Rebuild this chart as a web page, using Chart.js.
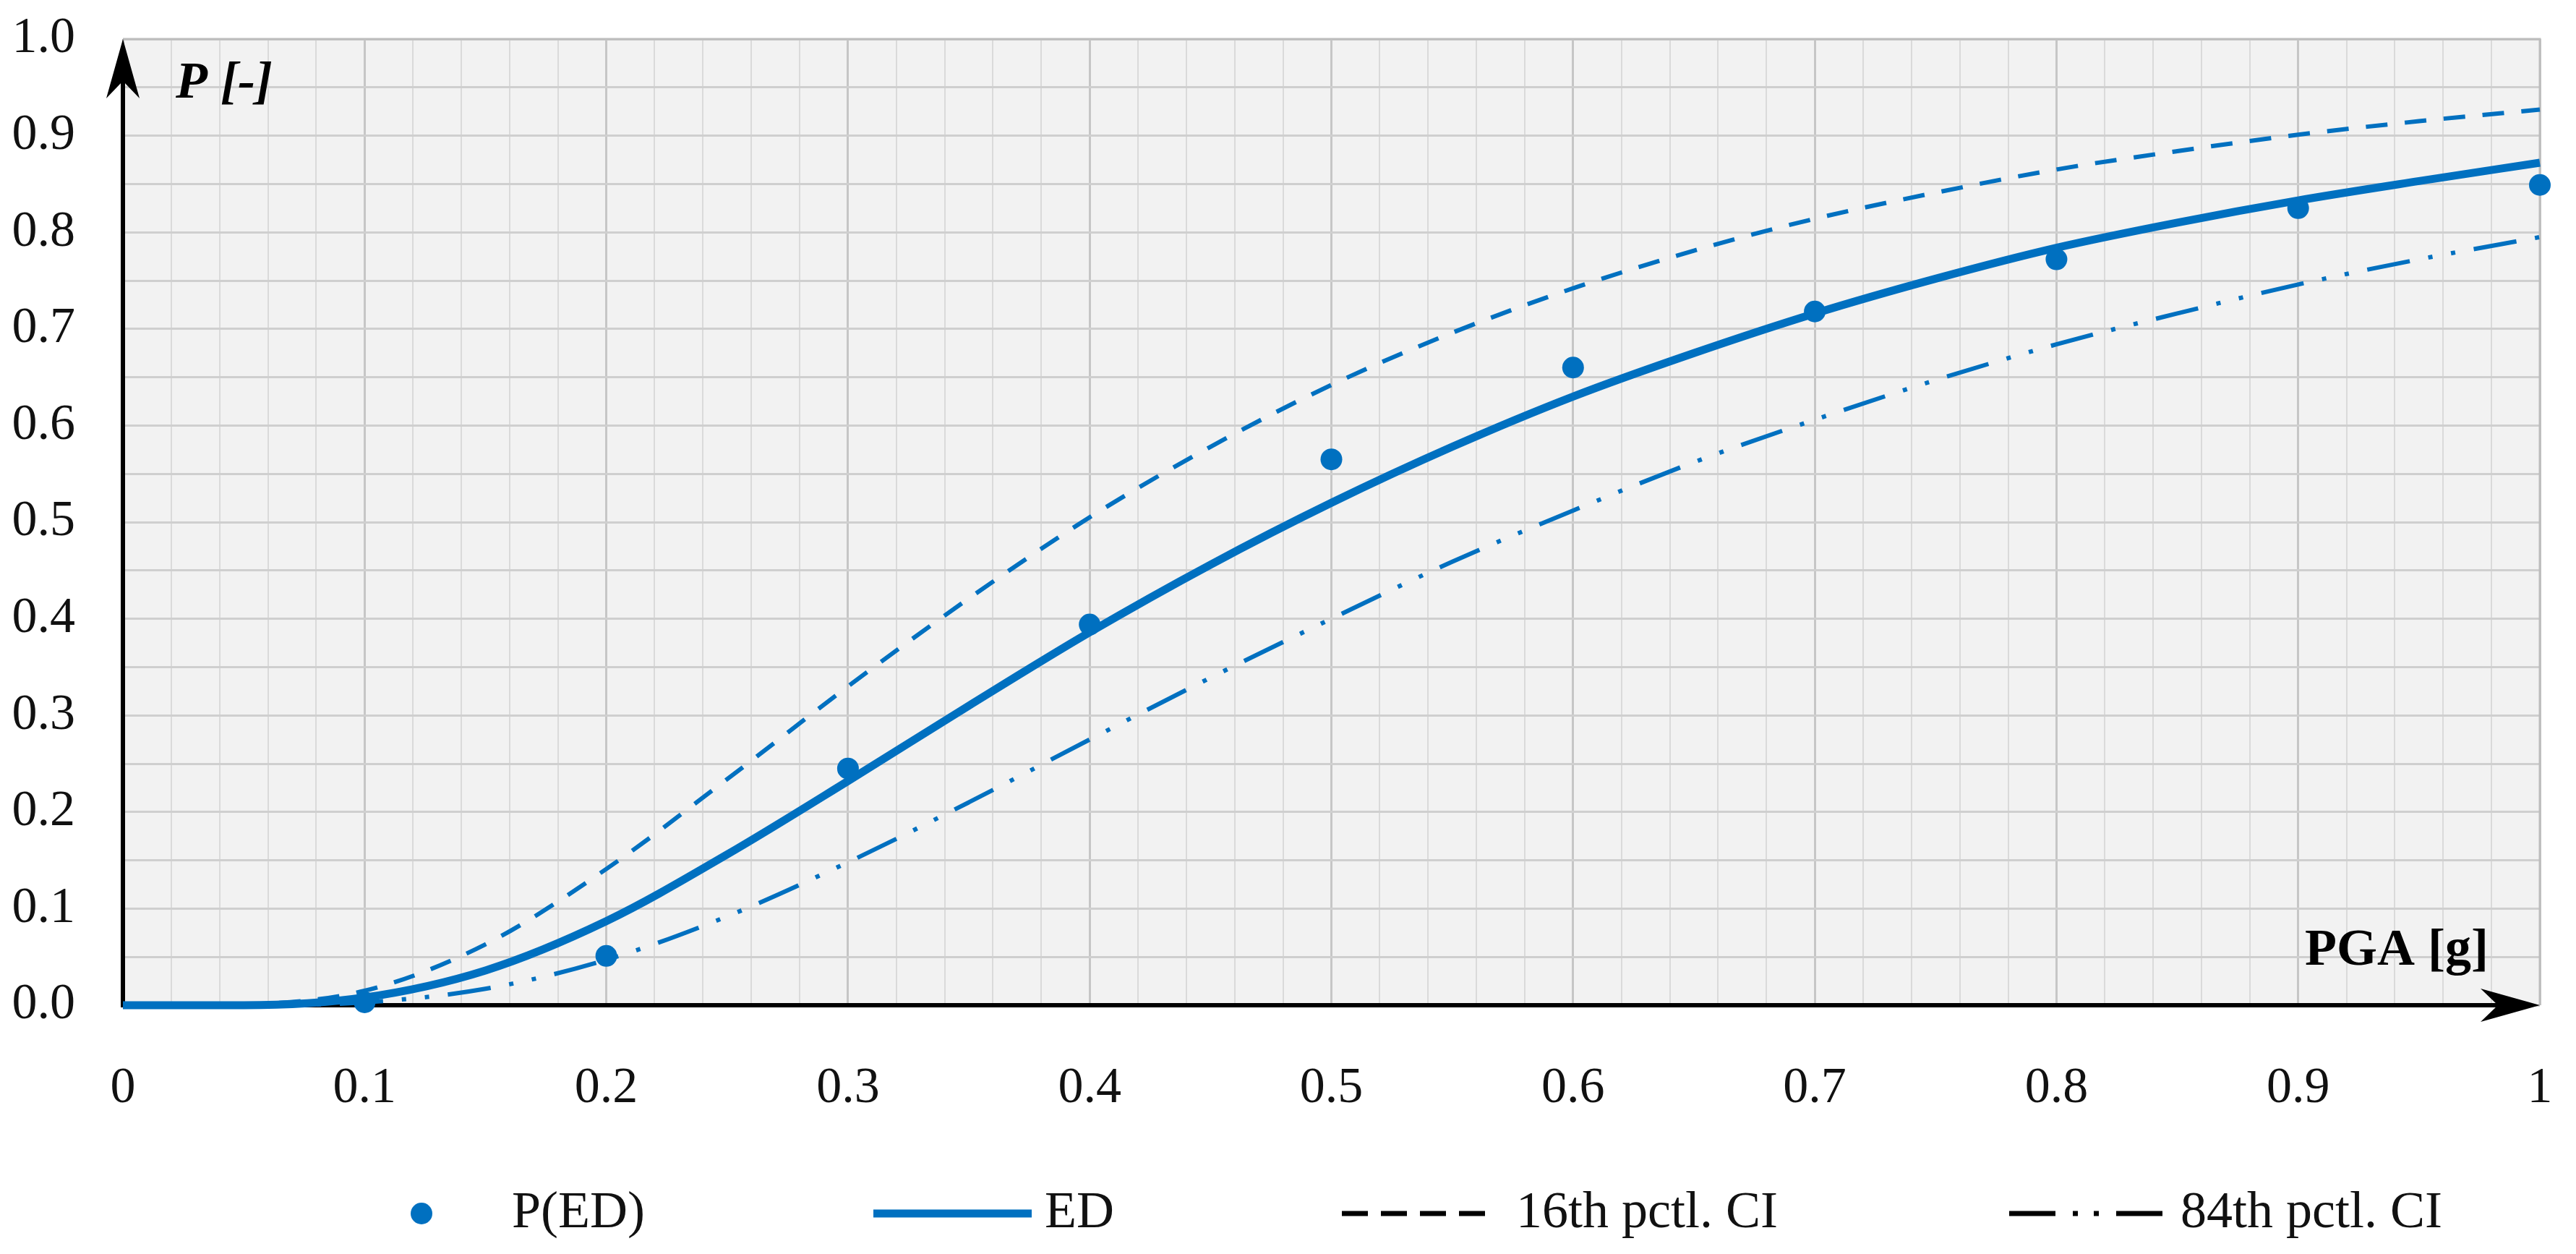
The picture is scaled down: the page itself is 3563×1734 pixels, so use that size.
<!DOCTYPE html>
<html>
<head>
<meta charset="utf-8">
<script src="https://cdn.jsdelivr.net/npm/chart.js@4.4.1/dist/chart.umd.min.js"></script>
<style>
  html, body { margin: 0; padding: 0; background: #fff; }
  #wrap { width: 3563px; height: 1734px; }
</style>
</head>
<body>
<div id="wrap"><canvas id="chart" width="3563" height="1734"></canvas></div>
<script>
// PGA grid the curves were read on
const pga = [0, 0.05, 0.1, 0.15, 0.2, 0.25, 0.3, 0.35, 0.4, 0.45, 0.5,
             0.55, 0.6, 0.65, 0.7, 0.75, 0.8, 0.85, 0.9, 0.95, 1.0];
// fragility curve ED
const edCurve = [0, 0.000, 0.008, 0.036, 0.087, 0.156, 0.232, 0.310, 0.386, 0.456, 0.520,
                 0.578, 0.630, 0.675, 0.716, 0.752, 0.784, 0.810, 0.833, 0.853, 0.872];
// 16th percentile confidence bound
const pct16 = [0, 0.001, 0.015, 0.063, 0.141, 0.234, 0.330, 0.421, 0.505, 0.578, 0.642,
               0.696, 0.742, 0.781, 0.814, 0.841, 0.865, 0.884, 0.901, 0.915, 0.927];
// 84th percentile confidence bound
const pct84 = [0, 0.000, 0.003, 0.017, 0.047, 0.092, 0.148, 0.210, 0.275, 0.339, 0.400,
               0.459, 0.512, 0.562, 0.606, 0.647, 0.684, 0.716, 0.746, 0.772, 0.795];
// observed damage probabilities
const obsPga = [0.1, 0.2, 0.3, 0.4, 0.5, 0.6, 0.7, 0.8, 0.9, 1.0];
const obsP = [0.003, 0.051, 0.245, 0.394, 0.565, 0.660, 0.718, 0.772, 0.825, 0.849];

const xTickLabels = ['0', '0.1', '0.2', '0.3', '0.4', '0.5', '0.6', '0.7', '0.8', '0.9', '1'];
const yTickLabels = ['0.0', '0.1', '0.2', '0.3', '0.4', '0.5', '0.6', '0.7', '0.8', '0.9', '1.0'];
const seriesLabels = ['P(ED)', 'ED', '16th pctl. CI', '84th pctl. CI'];

const BLUE = '#0070c0';
const SERIF = '"Liberation Serif", "Times New Roman", serif';

const xy = (xs, ys) => xs.map((x, i) => ({ x, y: ys[i] }));

Chart.defaults.font.family = SERIF;
Chart.defaults.color = '#111';

// stealth-style arrow head
function arrowHead(ctx, tipX, tipY, dir) {
  ctx.beginPath();
  if (dir === 'up') {
    ctx.moveTo(tipX, tipY);
    ctx.lineTo(tipX + 23, tipY + 82);
    ctx.lineTo(tipX, tipY + 58);
    ctx.lineTo(tipX - 23, tipY + 82);
  } else {
    ctx.moveTo(tipX, tipY);
    ctx.lineTo(tipX - 82, tipY - 23);
    ctx.lineTo(tipX - 58, tipY);
    ctx.lineTo(tipX - 82, tipY + 23);
  }
  ctx.closePath();
  ctx.fill();
}

const framePlugin = {
  id: 'frame',
  beforeDraw(chart) {
    const { ctx, chartArea: a } = chart;
    ctx.save();
    ctx.fillStyle = '#f2f2f2';
    ctx.fillRect(a.left, a.top, a.right - a.left, a.bottom - a.top);
    ctx.restore();
  },
  beforeDatasetsDraw(chart) {
    const { ctx, chartArea: a } = chart;
    ctx.save();
    // gray top/right border
    ctx.strokeStyle = '#bdbdbd';
    ctx.lineWidth = 3;
    ctx.beginPath();
    ctx.moveTo(a.left, a.top);
    ctx.lineTo(a.right, a.top);
    ctx.lineTo(a.right, a.bottom);
    ctx.stroke();
    // black axes with arrows
    ctx.strokeStyle = '#000';
    ctx.fillStyle = '#000';
    ctx.lineWidth = 6;
    ctx.beginPath();
    ctx.moveTo(a.left, a.bottom + 3);
    ctx.lineTo(a.left, a.top + 40);
    ctx.moveTo(a.left - 3, a.bottom);
    ctx.lineTo(a.right - 40, a.bottom);
    ctx.stroke();
    arrowHead(ctx, a.left, a.top, 'up');
    arrowHead(ctx, a.right, a.bottom, 'right');
    // axis titles inside the plot
    ctx.textBaseline = 'alphabetic';
    ctx.textAlign = 'left';
    ctx.font = 'bold italic 72px ' + SERIF;
    ctx.fillText('P [-]', a.left + 73, 135);
    ctx.font = 'bold 72px ' + SERIF;
    ctx.fillText('PGA [g]', 3188, 1334);
    ctx.restore();
  },
  afterDraw(chart) {
    const ctx = chart.ctx;
    const y = 1678;
    const labels = chart.data.datasets.map(d => d.label);
    ctx.save();
    // P(ED) marker
    ctx.fillStyle = BLUE;
    ctx.beginPath();
    ctx.arc(583, y, 15, 0, Math.PI * 2);
    ctx.fill();
    // ED line
    ctx.strokeStyle = BLUE;
    ctx.lineWidth = 11;
    ctx.beginPath();
    ctx.moveTo(1208, y);
    ctx.lineTo(1427, y);
    ctx.stroke();
    // 16th dashed (black in legend)
    ctx.strokeStyle = '#000';
    ctx.lineWidth = 7;
    ctx.setLineDash([36, 18]);
    ctx.beginPath();
    ctx.moveTo(1856, y);
    ctx.lineTo(2054, y);
    ctx.stroke();
    // 84th dash-dot-dot
    ctx.setLineDash([64, 24, 7, 22, 7, 24]);
    ctx.beginPath();
    ctx.moveTo(2779, y);
    ctx.lineTo(2994, y);
    ctx.stroke();
    ctx.setLineDash([]);
    // texts
    ctx.fillStyle = '#111';
    ctx.font = '72px ' + SERIF;
    ctx.textBaseline = 'middle';
    ctx.textAlign = 'left';
    ctx.fillText(labels[0], 708, y);
    ctx.fillText(labels[1], 1445, y);
    ctx.fillText(labels[2], 2097, y);
    ctx.fillText(labels[3], 3016, y);
    ctx.restore();
  }
};

new Chart(document.getElementById('chart'), {
  type: 'line',
  data: {
    datasets: [
      {
        label: seriesLabels[0],
        data: xy(obsPga, obsP),
        showLine: false,
        pointRadius: 15,
        pointHoverRadius: 15,
        pointBackgroundColor: BLUE,
        pointBorderWidth: 0,
        clip: false
      },
      {
        label: seriesLabels[1],
        data: xy(pga, edCurve),
        borderColor: BLUE,
        borderWidth: 11,
        pointRadius: 0,
        cubicInterpolationMode: 'monotone',
        clip: false
      },
      {
        label: seriesLabels[2],
        data: xy(pga, pct16),
        borderColor: BLUE,
        borderWidth: 6,
        borderDash: [30, 24],
        pointRadius: 0,
        cubicInterpolationMode: 'monotone',
        clip: false
      },
      {
        label: seriesLabels[3],
        data: xy(pga, pct84),
        borderColor: BLUE,
        borderWidth: 6,
        borderDash: [60, 26, 6, 26, 6, 26],
        pointRadius: 0,
        cubicInterpolationMode: 'monotone',
        clip: false
      }
    ]
  },
  options: {
    responsive: false,
    animation: false,
    devicePixelRatio: 1,
    layout: { autoPadding: false, padding: { left: 0, right: 50, top: 54, bottom: 0 } },
    plugins: {
      legend: { display: false },
      tooltip: { enabled: false }
    },
    scales: {
      x: {
        type: 'linear',
        min: 0,
        max: 1,
        afterFit(scale) {
          scale.height = 344;
          scale.paddingLeft = 0;
          scale.paddingRight = 0;
        },
        border: { display: false },
        grid: {
          drawTicks: false,
          color: c => (Math.round(c.tick.value * 50) % 5 === 0 ? '#c6c6c6' : '#dadada'),
          lineWidth: c => (Math.round(c.tick.value * 50) % 5 === 0 ? 3 : 2)
        },
        ticks: {
          stepSize: 0.02,
          autoSkip: false,
          maxRotation: 0,
          padding: 74,
          color: '#111',
          font: { size: 70 },
          callback(v) {
            const k = Math.round(v * 50);
            return k % 5 === 0 ? xTickLabels[k / 5] : '';
          }
        }
      },
      y: {
        min: 0,
        max: 1,
        afterFit(scale) {
          scale.width = 170;
          scale.paddingTop = 0;
          scale.paddingBottom = 0;
        },
        border: { display: false },
        grid: {
          drawTicks: false,
          color: '#cfcfcf',
          lineWidth: 3
        },
        ticks: {
          stepSize: 0.05,
          autoSkip: false,
          padding: 66,
          color: '#111',
          font: { size: 70 },
          callback(v) {
            const k = Math.round(v * 20);
            return k % 2 === 0 ? yTickLabels[k / 2] : '';
          }
        }
      }
    }
  },
  plugins: [framePlugin]
});
</script>
</body>
</html>
